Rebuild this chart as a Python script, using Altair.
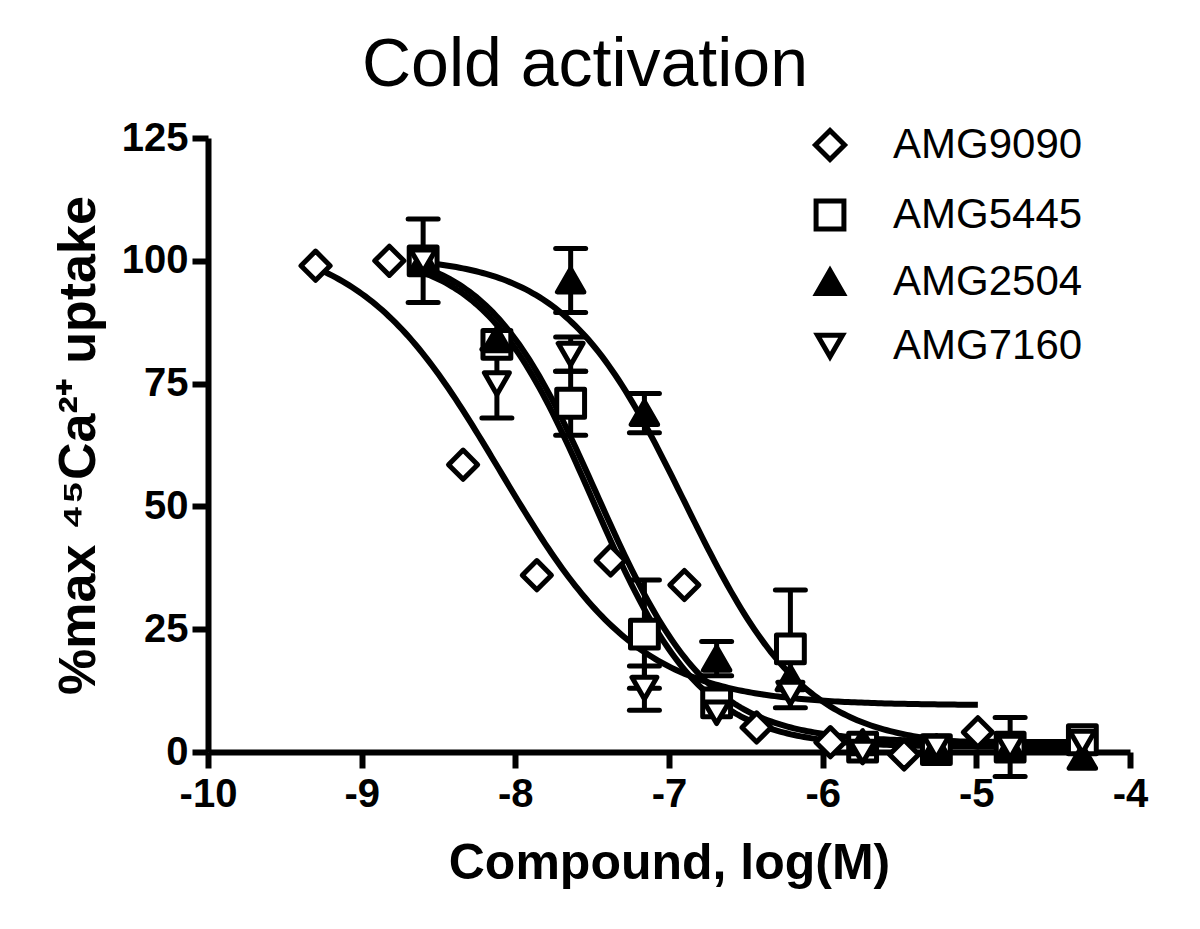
import altair as alt
import numpy as np
import pandas as pd

series_names = ["AMG9090", "AMG5445", "AMG2504", "AMG7160"]
shapes = ["diamond", "square", "triangle-up", "triangle-down"]
fills = ["white", "white", "black", "white"]
strokes = ["black", "black", "black", "black"]
sizes = [850, 625, 420, 650]

# measured points (log M, % max uptake)
x_9090 = [-9.30, -8.82, -8.34, -7.86, -7.38, -6.90, -6.43, -5.95, -5.47, -4.99]
y_9090 = [99, 100, 58.5, 36, 39, 34, 5, 2, -0.5, 4]
e_9090 = [0, 0, 0, 0, 0, 0, 0, 0, 0, 0]

x_grid = [-8.60, -8.12, -7.64, -7.16, -6.69, -6.21, -5.74, -5.26, -4.78, -4.31]
y_5445 = [100, 83, 71, 24, 10, 21, 1, 0.5, 1, 2.5]
e_5445 = [8.5, 0, 6.5, 11, 0, 12, 0, 0, 6, 0]
y_2504 = [100, 84, 96, 69, 19, 15, 2, 1, 1, -1]
e_2504 = [0, 0, 6.5, 4, 3.5, 0, 0, 0, 0, 0]
y_7160 = [100, 75, 81, 13, 8, 12, 0, 1, 1, 2]
e_7160 = [0, 7, 3.5, 4.5, 0, 0, 0, 0, 0, 0]

# fitted sigmoidal dose-response parameters
fit_top = [105, 103, 101, 102]
fit_bottom = [9.5, 2, 1, 1]
fit_logic50 = [-8.1, -7.47, -6.9, -7.5]
fit_hill = [0.95, 1.2, 1.1, 1.22]
fit_xmin = [-9.30, -8.60, -8.60, -8.60]
fit_xmax = [-4.99, -4.31, -4.31, -4.31]

x_ticks = [-10, -9, -8, -7, -6, -5, -4]
y_ticks = [0, 25, 50, 75, 100, 125]

FONT = "Liberation Sans"

# ---- tables ----
pts_rows = []
for name, xs, ys, es in [
    ("AMG9090", x_9090, y_9090, e_9090),
    ("AMG5445", x_grid, y_5445, e_5445),
    ("AMG2504", x_grid, y_2504, e_2504),
    ("AMG7160", x_grid, y_7160, e_7160),
]:
    for xv, yv, ev in zip(xs, ys, es):
        pts_rows.append({"series": name, "x": xv, "y": yv, "err": ev,
                         "lo": yv - ev, "hi": yv + ev})
pts = pd.DataFrame(pts_rows)
pts["order"] = pts["series"].map({n: i for i, n in enumerate(series_names)})
errs = pts[pts["err"] > 0].copy()
caps = pd.concat([
    errs.assign(cy=errs["hi"]),
    errs.assign(cy=errs["lo"]),
])

curve_rows = []
for i, name in enumerate(series_names):
    xs = np.linspace(fit_xmin[i], fit_xmax[i], 200)
    ys = fit_bottom[i] + (fit_top[i] - fit_bottom[i]) / (
        1 + 10 ** (fit_hill[i] * (xs - fit_logic50[i])))
    for xv, yv in zip(xs, ys):
        curve_rows.append({"series": name, "x": xv, "y": yv})
curves = pd.DataFrame(curve_rows)

xscale = alt.Scale(domain=[-10, -4], nice=False, zero=False)
yscale = alt.Scale(domain=[0, 125], nice=False, zero=False)

x_axis = alt.Axis(values=x_ticks, labelExpr="'' + datum.value",
                  title="Compound, log(M)", titlePadding=24, labelPadding=6,
                  titleFontSize=50)
y_axis = alt.Axis(values=y_ticks, title="%max ⁴⁵Ca²⁺ uptake",
                  titlePadding=16, labelPadding=4, titleFontSize=52)

base_x = alt.X("x:Q", scale=xscale, axis=x_axis)
base_y = alt.Y("y:Q", scale=yscale, axis=y_axis)

curve_layer = alt.Chart(curves).mark_line(
    color="black", strokeWidth=6, clip=False
).encode(x=base_x, y=base_y, detail="series:N")

err_layer = alt.Chart(errs).mark_rule(color="black", strokeWidth=5).encode(
    x=alt.X("x:Q", scale=xscale),
    y=alt.Y("lo:Q", scale=yscale),
    y2="hi:Q",
)

cap_layer = alt.Chart(caps).mark_point(
    shape="M-1,0L1,0", size=900, stroke="black", strokeWidth=5,
    strokeCap="round", filled=False, opacity=1
).encode(
    x=alt.X("x:Q", scale=xscale),
    y=alt.Y("cy:Q", scale=yscale),
)

legend_def = alt.Legend(title=None, labelLimit=0,
                        symbolStrokeColor="black", symbolStrokeWidth=5)

point_layer = alt.Chart(pts).mark_point(
    filled=True, strokeWidth=5, opacity=1, fillOpacity=1,
    strokeOpacity=1, strokeJoin="round"
).encode(
    x=alt.X("x:Q", scale=xscale),
    y=alt.Y("y:Q", scale=yscale),
    shape=alt.Shape("series:N", scale=alt.Scale(domain=series_names, range=shapes),
                    legend=legend_def),
    fill=alt.Fill("series:N", scale=alt.Scale(domain=series_names, range=fills),
                  legend=legend_def),
    stroke=alt.Stroke("series:N", scale=alt.Scale(domain=series_names, range=strokes),
                      legend=legend_def),
    size=alt.Size("series:N", scale=alt.Scale(domain=series_names, range=sizes),
                  legend=legend_def),
    order=alt.Order("order:Q"),
)

chart = alt.layer(curve_layer, err_layer, cap_layer, point_layer).properties(
    width=922,
    height=614,
    autosize=alt.AutoSizeParams(type="none"),
    padding={"left": 200, "top": 130, "right": 62, "bottom": 150},
    title=alt.TitleParams(
        "Cold activation", fontSize=68, font=FONT, fontWeight="normal",
        anchor="middle", dx=-84, offset=18, color="black"
    ),
).configure_view(stroke=None).configure_axis(
    domainColor="black", domainWidth=6, tickColor="black", tickWidth=6,
    tickSize=16, grid=False, labelFont=FONT, labelFontWeight="bold",
    labelFontSize=40, labelColor="black", titleFont=FONT,
    titleFontWeight="bold", titleFontSize=48, titleColor="black",
    labelOverlap=False, labelFlush=False,
).configure_legend(
    orient="none", legendX=601, legendY=-14, labelFont=FONT,
    labelFontSize=42, labelColor="black", labelOffset=42, rowPadding=21,
    symbolStrokeColor="black", symbolStrokeWidth=5, padding=0,
    symbolOpacity=1, labelLimit=0,
)

chart.save("out.html", embed_options={"renderer": "svg", "actions": False})
